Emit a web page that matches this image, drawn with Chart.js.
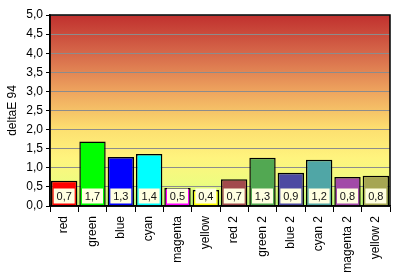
<!DOCTYPE html>
<html>
<head>
<meta charset="utf-8">
<script src="https://cdn.jsdelivr.net/npm/chart.js@4"></script>
<style>
  html, body { margin: 0; padding: 0; background: #fff; }
  #wrap { width: 397px; height: 274px; }
</style>
</head>
<body>
<div id="wrap"><canvas id="c" width="397" height="274"></canvas></div>
<script>
const categories = ["red", "green", "blue", "cyan", "magenta", "yellow",
  "red 2", "green 2", "blue 2", "cyan 2", "magenta 2", "yellow 2"]
const deltaE = [0.66, 1.69, 1.28, 1.36, 0.47, 0.42, 0.70, 1.26, 0.87, 1.21, 0.76, 0.79]
const barColors = ["#ff0000", "#00ff00", "#0000ff", "#00ffff", "#ff00ff", "#ffff00",
  "#a24a4c", "#52a852", "#4c4aa2", "#50a6a6", "#a24aa8", "#a6a652"]
const yTicks = [0, 0.5, 1, 1.5, 2, 2.5, 3, 3.5, 4, 4.5, 5]

const fmt = v => v.toFixed(1).replace(".", ",")

const bgPlugin = {
  id: "bg",
  beforeDraw(chart) {
    const {ctx, chartArea: a} = chart
    const g = ctx.createLinearGradient(0, a.top, 0, a.bottom)
    g.addColorStop(0, "#c0302e")
    g.addColorStop(0.2, "#d6684a")
    g.addColorStop(0.4, "#eea45e")
    g.addColorStop(0.6, "#fde070")
    g.addColorStop(0.75, "#fff47e")
    g.addColorStop(0.88, "#eefc80")
    g.addColorStop(1, "#b6f872")
    ctx.save()
    ctx.fillStyle = g
    ctx.fillRect(a.left, a.top, a.right - a.left, a.bottom - a.top)
    ctx.restore()
  },
  afterDraw(chart) {
    const {ctx, chartArea: a} = chart
    ctx.save()
    ctx.strokeStyle = "#000"
    ctx.lineWidth = 1.5
    ctx.strokeRect(a.left, a.top, a.right - a.left, a.bottom - a.top)
    // value boxes near bottom of each bar
    const meta = chart.getDatasetMeta(0)
    const y = chart.scales.y.getPixelForValue(0) - 10
    ctx.font = "11px 'Liberation Sans', Arial, sans-serif"
    ctx.textAlign = "center"
    ctx.textBaseline = "middle"
    meta.data.forEach((bar, i) => {
      ctx.fillStyle = "#ffffe0"
      ctx.fillRect(bar.x - 10.5, y - 7.5, 21, 15)
      ctx.fillStyle = "#111"
      ctx.fillText(fmt(deltaE[i]), bar.x, y + 0.5)
    })
    ctx.restore()
  }
}

new Chart(document.getElementById("c"), {
  type: "bar",
  data: {
    labels: categories,
    datasets: [{
      data: deltaE,
      backgroundColor: barColors,
      borderColor: "#000",
      borderWidth: 1.5,
      barPercentage: 0.93,
      categoryPercentage: 1
    }]
  },
  options: {
    responsive: false,
    animation: false,
    layout: {padding: {top: 15, right: 7, left: 0, bottom: 0}},
    plugins: {legend: {display: false}, tooltip: {enabled: false}},
    scales: {
      x: {
        offset: true,
        grid: {offset: true, drawOnChartArea: false, tickLength: 6, color: "#000"},
        border: {color: "#000", width: 1.5},
        ticks: {
          minRotation: 90, maxRotation: 90, autoSkip: false, padding: 4,
          color: "#000", font: {family: "'Liberation Sans', Arial, sans-serif", size: 12}
        },
        afterFit(s) { s.height = 274 - 206 }
      },
      y: {
        min: 0, max: 5,
        afterBuildTicks(s) { s.ticks = yTicks.map(v => ({value: v})) },
        grid: {color: "#8c8c8c", lineWidth: 1, tickLength: 4, tickColor: "#000"},
        border: {color: "#000", width: 1.5},
        ticks: {
          callback: v => fmt(v), padding: 3,
          color: "#000", font: {family: "'Liberation Sans', Arial, sans-serif", size: 12}
        },
        title: {
          display: true, text: "deltaE 94", padding: {top: 5, bottom: 0},
          color: "#000", font: {family: "'Liberation Sans', Arial, sans-serif", size: 12}
        },
        afterFit(s) { s.width = 50 }
      }
    }
  },
  plugins: [bgPlugin]
})
</script>
</body>
</html>
